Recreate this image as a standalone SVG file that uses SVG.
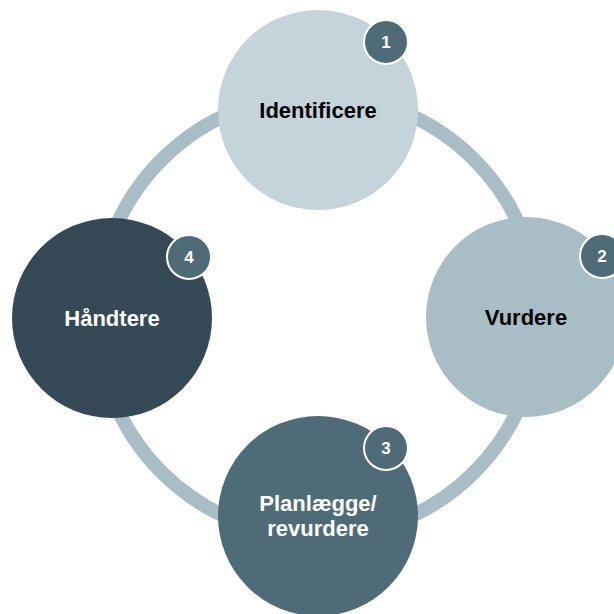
<svg xmlns="http://www.w3.org/2000/svg" width="614" height="614" viewBox="0 0 614 614">
<style>
.lbl{font-family:"Liberation Sans",Arial,sans-serif;font-weight:bold;font-size:22px;text-anchor:middle}
.num{font-family:"Liberation Sans",Arial,sans-serif;font-weight:bold;font-size:17px;fill:#fff;text-anchor:middle}
.badge{fill:#4F6B78;stroke:#fff;stroke-width:2}
</style>
<rect width="614" height="614" fill="#fff"/>
<g id="connectors">
<circle cx="318" cy="316" r="221" fill="none" stroke="#A9BDC6" stroke-width="14"/>
</g>
<g id="node1">
<circle cx="318" cy="110" r="100" fill="#C5D3DA"/>
<text class="lbl" x="318" y="118" fill="#000">Identificere</text>
<circle class="badge" cx="386" cy="42" r="22"/>
<text class="num" x="386" y="48">1</text>
</g>
<g id="node2">
<circle cx="526" cy="317" r="100" fill="#A9BDC6"/>
<text class="lbl" x="526" y="325" fill="#000">Vurdere</text>
<circle class="badge" cx="602" cy="256" r="22"/>
<text class="num" x="602" y="262">2</text>
</g>
<g id="node3">
<circle cx="318" cy="516" r="100" fill="#4F6B78"/>
<text class="lbl" x="318" y="511" fill="#fff">Planlægge/</text>
<text class="lbl" x="318" y="536" fill="#fff">revurdere</text>
<circle class="badge" cx="386" cy="448" r="22"/>
<text class="num" x="386" y="454">3</text>
</g>
<g id="node4">
<circle cx="112" cy="318" r="100" fill="#344955"/>
<text class="lbl" x="112" y="326" fill="#fff">Håndtere</text>
<circle class="badge" cx="189" cy="257" r="22"/>
<text class="num" x="189" y="263">4</text>
</g>
</svg>
